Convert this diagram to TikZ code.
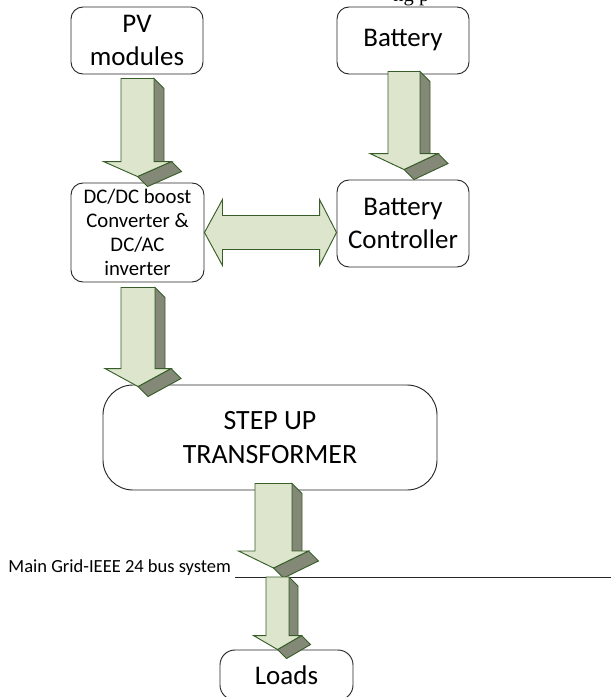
\documentclass[tikz,border=0pt]{standalone}
\usepackage{fontspec}
\setmainfont{Carlito}
\newfontfamily\captionserif{Liberation Serif}
\usepackage{tikz}
\usetikzlibrary{calc}
\definecolor{arrowfill}{RGB}{221,229,205}
\definecolor{arrowedge}{RGB}{55,94,40}
\definecolor{arrowdark}{RGB}{132,137,119}
% fat arrow with a shaded side: top of shaft, tip, shaft half width,
% head half width, head length, depth
\newcommand{\flowarrow}[6]{%
  \coordinate (fa-t) at #1;
  \coordinate (fa-e) at #2;
  \coordinate (fa-p) at (fa-t |- fa-e);
  \coordinate (fa-h) at ($(fa-p)+(0,-#5)$);
  \draw[arrowside] ($(fa-t)+(#3,0)$) -- ++(#6,#6) -- ($(fa-h)+(#3+#6,#6)$)
       -- ($(fa-h)+(#3,0)$) -- cycle;
  \draw[arrowside] ($(fa-h)+(#4,0)$) -- ++(#6,#6) -- ($(fa-p)+(#6,#6)$)
       -- (fa-p) -- cycle;
  \draw[arrowface] ($(fa-t)+(-#3,0)$) -- ($(fa-t)+(#3,0)$) -- ($(fa-h)+(#3,0)$)
       -- ($(fa-h)+(#4,0)$) -- (fa-p) -- ($(fa-h)+(-#4,0)$)
       -- ($(fa-h)+(-#3,0)$) -- cycle;
}

\begin{document}
\begin{tikzpicture}[x=0.03cm, y=-0.03cm, line width=0.8pt,
  box/.style={draw=black!85, rounded corners=0.36cm, inner sep=0pt, align=center,
              font=\fontsize{23}{27.5}\selectfont},
  arrowface/.style={draw=arrowedge, fill=arrowfill, line join=miter},
  arrowside/.style={draw=arrowedge, fill=arrowdark, line join=miter}]
  \useasboundingbox (0,0) rectangle (611,697);

  % end of the caption line above, cut by the page
  \node[font=\captionserif\fontsize{17.5}{20}\selectfont, anchor=base west, inner sep=0pt]
       (captail) at (393,1) {ng p};

  % sources
  \node[box, minimum width=3.96cm, minimum height=2.01cm] (pv) at (137,40.5) {PV\\modules};
  \node[box, minimum width=3.96cm, minimum height=2.01cm] (batt) at (403,40.5) {Battery};

  % converters
  \node[box, minimum width=3.99cm, minimum height=2.97cm,
        font=\fontsize{17.7}{20.6}\selectfont] (dcdc) at (137.5,232.5)
       {DC/DC boost\\Converter \&\\DC/AC\\inverter};
  \node[box, minimum width=3.96cm, minimum height=2.61cm] (ctrl) at (403,223.5)
       {Battery\\Controller};

  % transformer and loads
  \node[box, minimum width=10.02cm, minimum height=3.15cm, rounded corners=0.9cm,
        font=\fontsize{23.8}{29}\selectfont] (xfmr) at (270,437.5) {STEP UP\\TRANSFORMER};
  \node[box, minimum width=3.99cm, minimum height=1.5cm, rounded corners=0.45cm]
       (loads) at (286.5,675) {Loads};

  % grid bus
  \node[font=\fontsize{15.8}{19}\selectfont, anchor=base west, inner sep=0pt]
       (gridlbl) at (8,572) {Main Grid-IEEE 24 bus system};
  \coordinate (busL) at (235,577);
  \coordinate (busR) at (611,577);
  \coordinate (tap) at (275,577);
  \draw[line width=0.7pt, black!85] (busL) -- (busR);

  % power flow
  \flowarrow{($(pv.south)+(0.5,4)$)}{($(dcdc.north)+(0,-6)$)}{16.5}{34}{15}{10}
  \flowarrow{($(batt.south)+(1,-3)$)}{($(ctrl.north)+(0,-10)$)}{16}{34}{16}{10}
  \flowarrow{($(dcdc.south)+(0.5,5)$)}{($(xfmr.north)+(0,2)$)}{17}{33}{18}{10}
  \flowarrow{($(xfmr.south)+(3.5,-7)$)}{($(tap)+(0,-9)$)}{18.5}{35}{17}{10}
  \flowarrow{($(tap)+(2.5,0)$)}{(loads.north)}{11.5}{24}{14}{9}

  % two-way link between converter and battery controller
  \draw[arrowface] (dcdc.east) -- ++(18,-33) -- ++(0,16)
       -- ($(ctrl.west |- dcdc.east)+(-17,-17)$) -- ++(0,-16)
       -- (ctrl.west |- dcdc.east) -- ++(-17,33) -- ++(0,-16)
       -- ($(dcdc.east)+(18,17)$) -- ++(0,16) -- cycle;
\end{tikzpicture}
\end{document}
